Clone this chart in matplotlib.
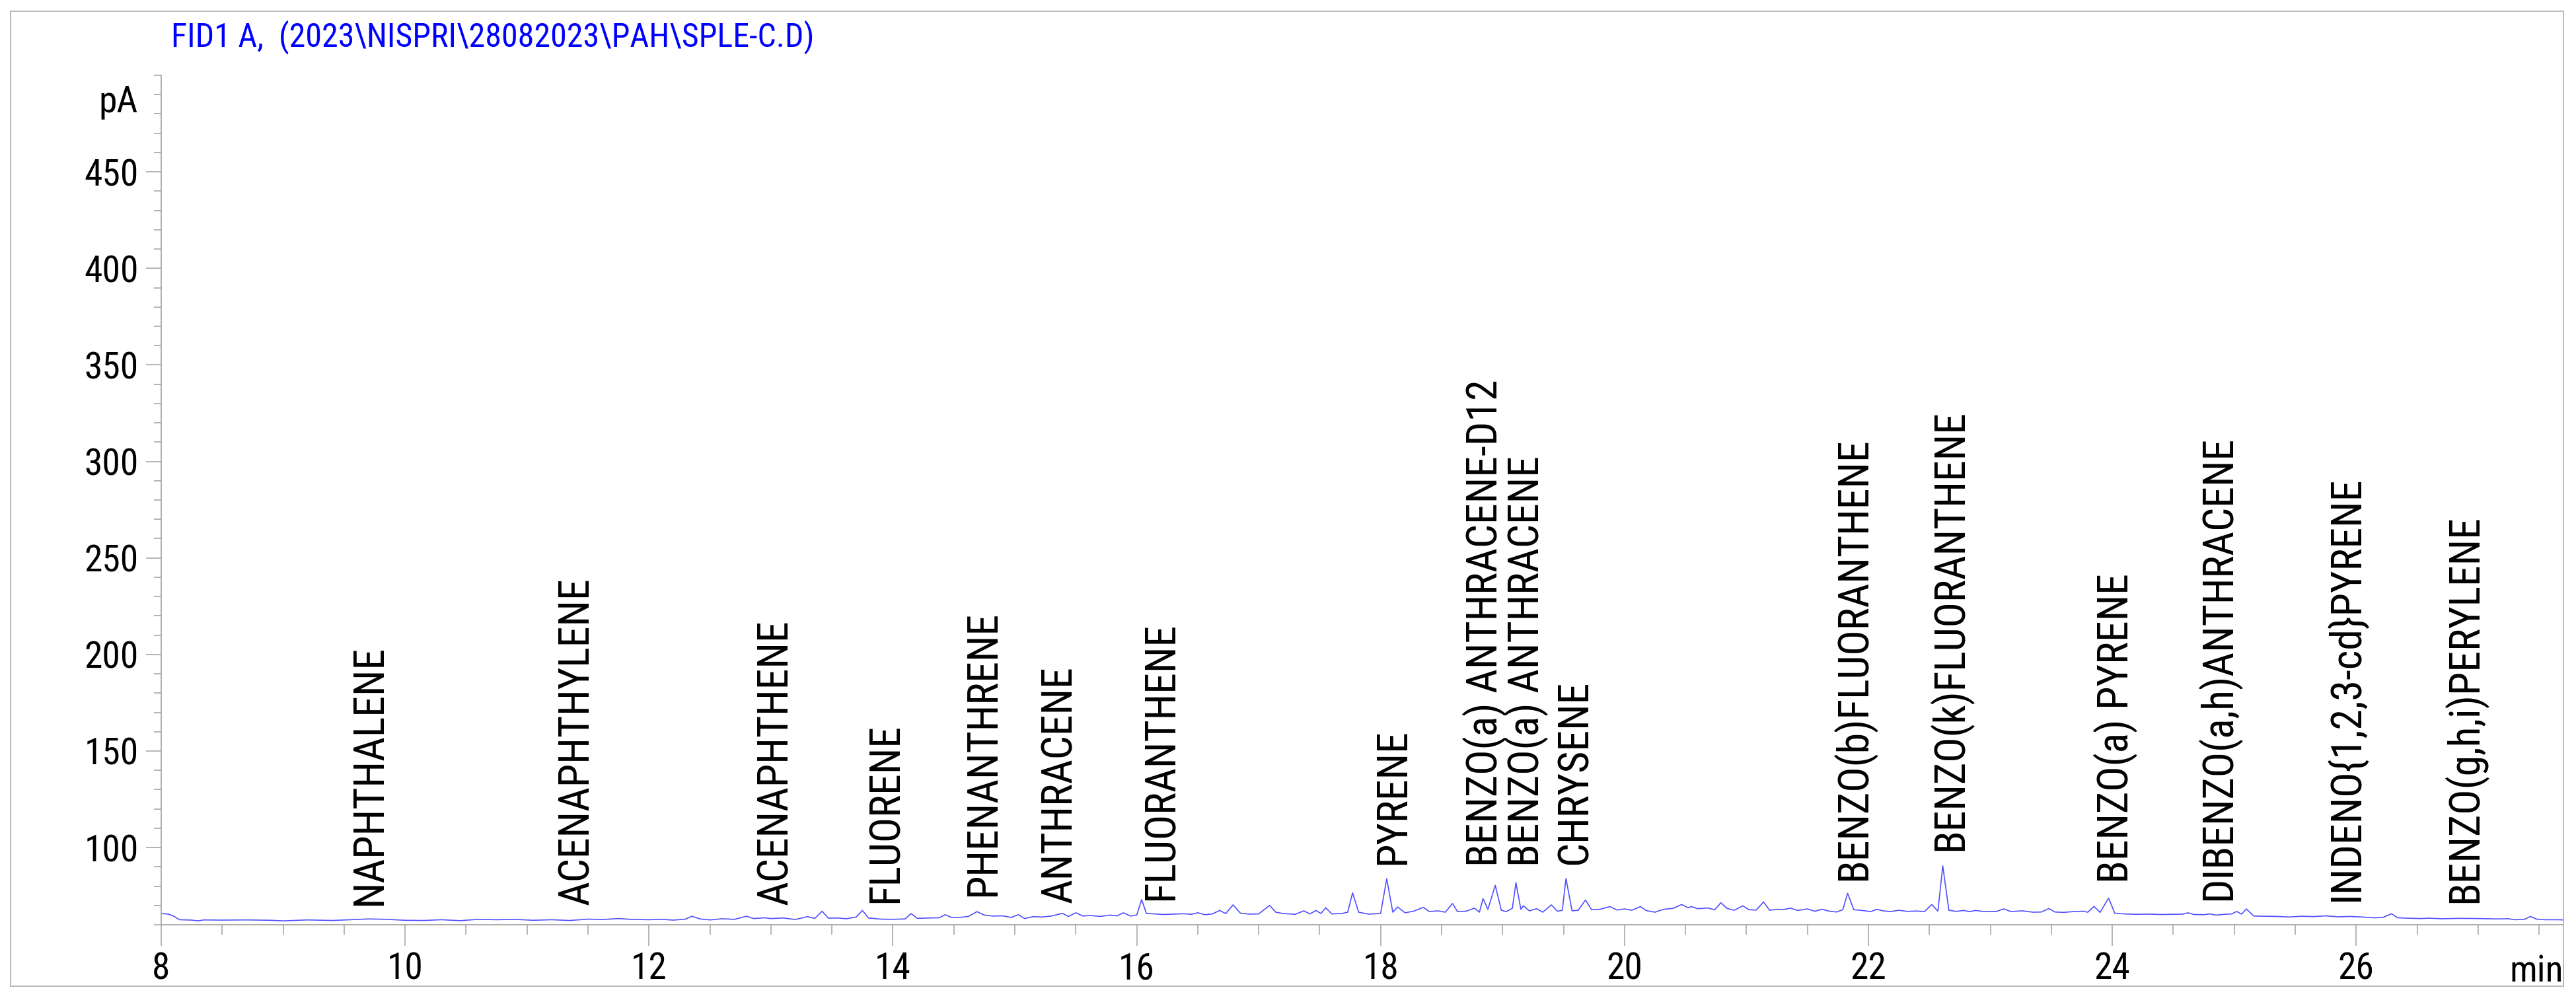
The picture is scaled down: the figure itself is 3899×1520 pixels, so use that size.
import matplotlib
matplotlib.use("Agg")
import matplotlib.pyplot as plt
from matplotlib import font_manager
from matplotlib.font_manager import FontProperties
from matplotlib.patches import Rectangle
from matplotlib.ticker import MultipleLocator

# retention time (min) and detector signal (pA)
time_min = [8.00, 8.06, 8.10, 8.15, 8.25, 8.30, 8.35, 8.50, 8.70, 8.90, 9.00, 9.20, 9.40, 9.55,
            9.70, 9.85, 10.00, 10.15, 10.30, 10.45, 10.60, 10.75, 10.90, 11.05, 11.20, 11.35,
            11.50, 11.62, 11.75, 11.85, 12.00, 12.10, 12.20, 12.30, 12.35, 12.42, 12.50, 12.60,
            12.70, 12.80, 12.86, 12.95, 13.00, 13.10, 13.20, 13.30, 13.36, 13.42, 13.47, 13.55,
            13.62, 13.70, 13.75, 13.80, 13.90, 14.00, 14.10, 14.15, 14.20, 14.30, 14.38, 14.43,
            14.48, 14.55, 14.62, 14.69, 14.75, 14.82, 14.90, 14.97, 15.03, 15.08, 15.15, 15.22,
            15.30, 15.39, 15.44, 15.50, 15.56, 15.62, 15.70, 15.78, 15.84, 15.89, 15.95, 16.00,
            16.04, 16.08, 16.15, 16.22, 16.30, 16.38, 16.45, 16.50, 16.56, 16.62, 16.68, 16.73,
            16.79, 16.85, 16.92, 17.00, 17.09, 17.14, 17.20, 17.30, 17.37, 17.42, 17.47, 17.51,
            17.55, 17.60, 17.68, 17.73, 17.77, 17.82, 17.90, 18.00, 18.05, 18.10, 18.14, 18.20,
            18.27, 18.35, 18.40, 18.47, 18.53, 18.59, 18.63, 18.70, 18.77, 18.81, 18.84, 18.88,
            18.94, 18.99, 19.03, 19.08, 19.11, 19.15, 19.17, 19.22, 19.28, 19.33, 19.40, 19.45,
            19.49, 19.52, 19.57, 19.62, 19.68, 19.73, 19.80, 19.88, 19.94, 20.00, 20.06, 20.13,
            20.18, 20.25, 20.32, 20.40, 20.47, 20.52, 20.55, 20.60, 20.68, 20.74, 20.79, 20.84,
            20.90, 20.97, 21.02, 21.08, 21.14, 21.19, 21.25, 21.30, 21.36, 21.42, 21.50, 21.56,
            21.62, 21.68, 21.74, 21.79, 21.83, 21.88, 21.95, 22.02, 22.07, 22.12, 22.18, 22.25,
            22.32, 22.40, 22.46, 22.52, 22.57, 22.61, 22.66, 22.72, 22.78, 22.83, 22.88, 22.95,
            23.05, 23.11, 23.17, 23.26, 23.35, 23.42, 23.48, 23.53, 23.60, 23.68, 23.76, 23.80,
            23.85, 23.90, 23.97, 24.02, 24.10, 24.20, 24.30, 24.40, 24.50, 24.58, 24.62, 24.67,
            24.75, 24.80, 24.85, 24.92, 24.98, 25.02, 25.06, 25.10, 25.16, 25.25, 25.35, 25.45,
            25.55, 25.65, 25.75, 25.85, 25.95, 26.05, 26.15, 26.22, 26.29, 26.34, 26.42, 26.52,
            26.60, 26.70, 26.85, 27.00, 27.15, 27.25, 27.30, 27.38, 27.43, 27.48, 27.55, 27.65,
            27.70]
signal_pa = [65.8, 65.5, 64.5, 62.6, 62.4, 62.0, 62.5, 62.4, 62.5, 62.3, 62.0, 62.5, 62.2, 62.6,
             63.0, 62.8, 62.3, 62.2, 62.6, 62.1, 62.8, 62.6, 62.8, 62.3, 62.6, 62.2,
             62.9, 62.7, 63.2, 62.8, 62.6, 62.8, 62.4, 62.9, 64.4, 63.0, 62.5, 63.1,
             62.8, 64.4, 63.2, 63.6, 63.2, 63.5, 62.7, 64.2, 63.3, 67.0, 63.4, 63.5,
             63.1, 64.0, 67.4, 63.5, 62.9, 62.8, 63.0, 65.8, 63.3, 63.5, 63.6, 65.2,
             63.8, 63.8, 64.3, 66.8, 65.0, 64.5, 64.6, 63.8, 65.2, 63.2, 64.2, 64.0,
             64.5, 65.9, 64.3, 66.2, 64.5, 64.8, 64.3, 65.0, 64.6, 66.2, 64.5, 65.0,
             73.0, 65.8, 65.6, 65.3, 65.5, 65.7, 65.4, 66.2, 65.2, 65.6, 67.4, 65.8,
             70.3, 66.0, 65.5, 65.6, 70.0, 66.5, 65.8, 65.4, 67.2, 65.6, 67.4, 65.8,
             68.8, 65.6, 65.8, 66.5, 76.5, 66.5, 65.5, 65.8, 83.8, 66.5, 69.2, 66.2,
             67.0, 69.0, 66.8, 67.2, 66.5, 71.0, 66.8, 67.0, 68.6, 66.5, 73.5, 68.0,
             80.4, 67.5, 66.8, 68.5, 81.8, 68.0, 69.8, 67.2, 68.3, 66.5, 70.3, 67.0,
             67.5, 84.0, 67.2, 67.5, 72.8, 67.8, 68.0, 69.4, 67.6, 68.2, 67.5, 69.4,
             67.3, 66.5, 68.0, 68.5, 70.5, 68.8, 69.4, 68.3, 68.7, 67.8, 71.4, 68.5,
             67.5, 69.8, 67.8, 67.6, 71.8, 67.5, 68.0, 67.8, 68.6, 67.4, 68.2, 67.0,
             68.0, 67.0, 66.6, 67.8, 76.3, 67.8, 67.4, 66.8, 68.0, 67.2, 66.8, 67.5,
             66.9, 67.1, 66.8, 70.5, 67.0, 90.5, 67.5, 66.9, 67.4, 66.8, 67.4, 66.8,
             66.9, 68.2, 66.8, 67.2, 66.5, 66.6, 68.4, 66.6, 66.4, 66.8, 67.0, 66.5,
             69.5, 66.4, 73.8, 66.0, 65.6, 65.4, 65.5, 65.3, 65.4, 65.5, 66.2, 65.3,
             65.2, 65.6, 65.0, 65.4, 65.6, 66.9, 65.5, 68.2, 64.5, 64.4, 64.3, 64.0,
             64.4, 64.2, 64.6, 64.1, 64.3, 64.0, 63.6, 63.8, 65.7, 63.6, 63.4, 63.2,
             63.4, 63.1, 63.3, 63.2, 63.0, 63.1, 62.6, 62.8, 64.3, 62.9, 62.6, 62.6,
             62.5]

# the two benzo(a)anthracene names sit side by side, so they share one two-line label
peak_names = ["NAPHTHALENE", "ACENAPHTHYLENE", "ACENAPHTHENE", "FLUORENE", "PHENANTHRENE",
              "ANTHRACENE", "FLUORANTHENE", "PYRENE",
              "BENZO(a) ANTHRACENE-D12\nBENZO(a) ANTHRACENE", "CHRYSENE",
              "BENZO(b)FLUORANTHENE", "BENZO(k)FLUORANTHENE", "BENZO(a) PYRENE",
              "DIBENZO(a,h)ANTHRACENE", "INDENO{1,2,3-cd}PYRENE", "BENZO(g,h,i)PERYLENE"]
peak_label_rt = [9.71, 11.41, 13.04, 13.94, 14.74, 15.37, 16.20, 18.10, 19.025, 19.59,
                 21.88, 22.67, 24.03, 24.87, 25.92, 26.89]
peak_label_pa = [69.9, 70.3, 70.3, 71.3, 74.7, 71.3, 72.7, 91.2, 90.1, 91.2, 82.9, 98.4,
                 81.6, 72.7, 72.3, 71.3]

x_ticks = [8, 10, 12, 14, 16, 18, 20, 22, 24, 26]
y_ticks = [100, 150, 200, 250, 300, 350, 400, 450]
title = "FID1 A,  (2023\\NISPRI\\28082023\\PAH\\SPLE-C.D)"

W, H = 3899, 1520
GRAY = "#a0a0a0"


def is_regular(f):
	return f.style == 'normal' and str(f.weight) in ('400', 'normal', 'regular', 'book')


def find_narrow():
	# a narrow sans looks closest to the ChemStation print font
	entries = font_manager.fontManager.ttflist
	for want in ['Liberation Sans Narrow', 'Arial Narrow', 'Roboto Condensed',
	             'Open Sans Condensed', 'Noto Sans Condensed']:
		for f in entries:
			if f.name == want and is_regular(f):
				return f.fname
	for f in entries:
		st = str(f.stretch)
		if st in ('condensed', 'semi-condensed', '300', '400') and is_regular(f) and 'Mono' not in f.name \
				and 'Serif' not in f.name and 'CJK' not in f.name:
			return f.fname
	return None


narrow_file = find_narrow()
k = 1.0 if narrow_file else 0.82


def font(size):
	if narrow_file:
		return FontProperties(fname=narrow_file, size=size * k)
	return FontProperties(family=['Liberation Sans', 'DejaVu Sans'], size=size * k)


fig = plt.figure(figsize=(W / 100, H / 100), dpi=100)
ax = fig.add_axes([244 / W, 1 - 1400 / H, (3880 - 244) / W, (1400 - 114) / H])

ax.plot(time_min, signal_pa, color="#5050ff", lw=1.2)

ax.set_xlim(8, 27.7)
ax.set_ylim(60, 500)
ax.spines["right"].set_visible(False)
ax.spines["top"].set_visible(False)
for s in ["left", "bottom"]:
	ax.spines[s].set_color(GRAY)
	ax.spines[s].set_linewidth(1.2)

ax.set_xticks(x_ticks, [str(v) for v in x_ticks], fontproperties=font(40))
ax.set_yticks(y_ticks, [str(v) for v in y_ticks], fontproperties=font(40))
ax.xaxis.set_minor_locator(MultipleLocator(0.5))
ax.yaxis.set_minor_locator(MultipleLocator(10))
ax.tick_params(axis='x', which='major', length=23, width=1.1, color=GRAY, pad=6)
ax.tick_params(axis='x', which='minor', length=11, width=1.1, color=GRAY)
ax.tick_params(axis='y', which='major', length=16.5, width=1.1, color=GRAY, pad=8)
ax.tick_params(axis='y', which='minor', length=8, width=1.1, color=GRAY)

for name, rt, pa in zip(peak_names, peak_label_rt, peak_label_pa):
	ax.text(rt, pa, name, rotation=90, ha='center', va='bottom', multialignment='left',
	        linespacing=0.92, fontproperties=font(46), color='black')

fig.text(259 / W, 1 - 70 / H, title, color='#0000ff', fontproperties=font(36), ha='left', va='baseline')
fig.text(209 / W, 1 - 170 / H, "pA", fontproperties=font(40), ha='right', va='baseline')
fig.text(3880 / W, 1 - 1486 / H, "min", fontproperties=font(40), ha='right', va='baseline')

fig.patches.append(Rectangle((16 / W, 1 - 1493 / H), (3880 - 16) / W, (1493 - 17) / H,
                             transform=fig.transFigure, fill=False, edgecolor="#b4b4b4", lw=1.3))

fig.savefig("out.png", dpi=100)
